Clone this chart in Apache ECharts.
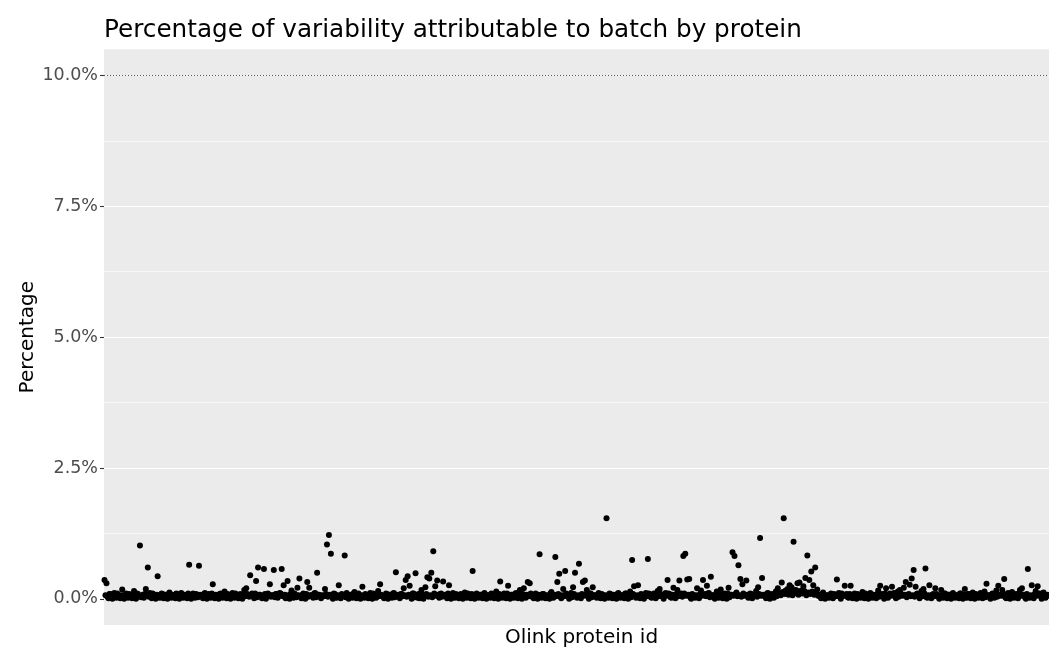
<!DOCTYPE html>
<html><head><meta charset="utf-8">
<script src="https://cdn.jsdelivr.net/npm/echarts@6/dist/echarts.min.js"></script>
<style>html,body{margin:0;padding:0;background:#fff}#c{width:1049px;height:653px}</style>
</head><body><div id="c"></div>
<script>
// Percentage of variability attributable to batch, one value per protein (in %)
const pctA = [0.36,0.07,0.30,0.04,0.01,0.09,0.09,0.06,0.0,0.08,0.11,0.05,0.02,0.1,0.07,0.03,0.01,0.07,0.18,0.05,
  0.0,0.08,0.1,0.06,0.02,0.09,0.08,0.04,0.01,0.07,0.15,0.05,0.0,0.1,0.09,0.06,1.02,0.03,0.06,0.08,
  0.02,0.09,0.19,0.06,0.60,0.04,0.11,0.07,0.01,0.1,0.07,0.05,0.0,0.08,0.43,0.06,0.02,0.03,0.1,0.09,
  0.01,0.07,0.08,0.05,0.0,0.09,0.12,0.06,0.02,0.08,0.07,0.04,0.01,0.1,0.09,0.03,0.0,0.07,0.11,0.06,
  0.02,0.08,0.06,0.04,0.01,0.1,0.65,0.06,0.0,0.07,0.1,0.05,0.02,0.09,0.08,0.03,0.63,0.08,0.07,0.06,
  0.01,0.09,0.11,0.05,0.0,0.07,0.09,0.04,0.02,0.1,0.28,0.06,0.01,0.08,0.07,0.03,0.0,0.09,0.1,0.05,
  0.02,0.07,0.14,0.06,0.01,0.09,0.08,0.03,0.0,0.08,0.11,0.05,0.02,0.1,0.06,0.04,0.01,0.07,0.09,0.06,
  0.0,0.08,0.17,0.05,0.2,0.09,0.07,0.04,0.45,0.07,0.1,0.06,0.01,0.1,0.34,0.03,0.60,0.08,0.08,0.05];
const pctB = [0.01,0.06,0.57,0.09,0.0,0.05,0.1,0.08,0.28,0.04,0.07,0.07,0.55,0.03,0.09,0.09,0.02,0.06,0.11,0.1,
  0.57,0.05,0.26,0.08,0.01,0.07,0.34,0.04,0.0,0.09,0.16,0.06,0.02,0.1,0.08,0.03,0.21,0.07,0.39,0.05,
  0.01,0.08,0.1,0.06,0.0,0.09,0.32,0.04,0.21,0.07,0.07,0.05,0.02,0.1,0.11,0.03,0.50,0.08,0.08,0.06,
  0.01,0.07,0.06,0.05,0.19,0.09,1.04,0.04,1.22,0.08,0.86,0.06,0.0,0.1,0.09,0.03,0.02,0.07,0.26,0.05,
  0.01,0.09,0.07,0.06,0.83,0.03,0.11,0.08,0.0,0.05,0.08,0.07,0.02,0.1,0.13,0.04,0.01,0.08,0.1,0.06,
  0.0,0.07,0.23,0.05,0.02,0.09,0.07,0.04,0.01,0.08,0.11,0.06,0.0,0.1,0.09,0.03,0.02,0.07,0.15,0.05,
  0.28,0.08,0.06,0.04,0.01,0.06,0.1,0.09,0.0,0.05,0.08,0.07,0.02,0.1,0.11,0.03,0.51,0.08,0.07,0.06,
  0.01,0.09,0.09,0.05,0.2,0.07,0.36,0.04,0.43,0.08,0.25,0.06,0.0,0.1,0.1,0.03,0.49,0.07,0.02,0.09];
const pctC = [0.01,0.06,0.17,0.08,0.0,0.05,0.22,0.09,0.41,0.04,0.39,0.07,0.50,0.03,0.91,0.1,0.24,0.06,0.35,0.08,
  0.02,0.09,0.1,0.04,0.33,0.07,0.08,0.05,0.01,0.1,0.26,0.06,0.0,0.08,0.11,0.03,0.02,0.09,0.07,0.05,
  0.01,0.07,0.09,0.05,0.0,0.08,0.12,0.04,0.02,0.1,0.06,0.06,0.01,0.09,0.53,0.03,0.0,0.07,0.1,0.05,
  0.02,0.08,0.08,0.04,0.01,0.09,0.11,0.06,0.0,0.07,0.07,0.05,0.02,0.1,0.09,0.03,0.01,0.08,0.14,0.06,
  0.0,0.09,0.33,0.05,0.02,0.07,0.1,0.04,0.01,0.1,0.25,0.06,0.0,0.08,0.08,0.03,0.02,0.09,0.11,0.05,
  0.01,0.07,0.17,0.04,0.0,0.09,0.2,0.06,0.02,0.08,0.32,0.05,0.30,0.1,0.07,0.03,0.01,0.07,0.1,0.06,
  0.0,0.08,0.85,0.05,0.02,0.09,0.09,0.04,0.01,0.07,0.06,0.06,0.0,0.1,0.13,0.03,0.02,0.08,0.80,0.05,
  0.32,0.09,0.48,0.04,0.01,0.07,0.19,0.05,0.53,0.1,0.08,0.06,0.0,0.08,0.11,0.03,0.22,0.09,0.50,0.05];
const pctD = [0.02,0.07,0.67,0.04,0.01,0.09,0.32,0.06,0.35,0.08,0.17,0.05,0.0,0.1,0.1,0.03,0.22,0.07,0.07,0.06,
  0.02,0.08,0.11,0.05,0.01,0.09,0.08,0.04,0.0,0.07,1.54,0.06,0.02,0.1,0.09,0.03,0.01,0.08,0.06,0.06,
  0.0,0.09,0.11,0.05,0.02,0.07,0.07,0.04,0.01,0.1,0.1,0.06,0.0,0.08,0.14,0.03,0.74,0.09,0.24,0.05,
  0.02,0.07,0.26,0.04,0.01,0.09,0.08,0.06,0.0,0.08,0.11,0.05,0.76,0.1,0.07,0.03,0.02,0.07,0.1,0.06,
  0.01,0.08,0.15,0.05,0.19,0.09,0.08,0.04,0.0,0.07,0.11,0.06,0.36,0.1,0.09,0.03,0.02,0.08,0.21,0.06,
  0.01,0.09,0.17,0.05,0.35,0.07,0.1,0.04,0.82,0.1,0.86,0.06,0.37,0.08,0.38,0.03,0.0,0.09,0.08,0.05,
  0.02,0.07,0.2,0.04,0.01,0.09,0.16,0.06,0.36,0.08,0.09,0.05,0.25,0.1,0.11,0.03,0.42,0.07,0.07,0.06,
  0.0,0.08,0.14,0.05,0.02,0.09,0.18,0.04,0.01,0.07,0.1,0.06,0.0,0.1,0.21,0.03,0.08,0.08,0.89,0.06];
const pctE = [0.82,0.09,0.12,0.05,0.64,0.07,0.38,0.04,0.28,0.1,0.07,0.06,0.35,0.08,0.02,0.03,0.1,0.09,0.01,0.05,
  0.08,0.07,0.15,0.04,0.22,0.09,1.16,0.06,0.40,0.08,0.06,0.05,0.01,0.1,0.11,0.03,0.0,0.07,0.09,0.06,
  0.02,0.08,0.14,0.05,0.2,0.11,0.1,0.07,0.31,0.13,1.54,0.09,0.16,0.15,0.19,0.08,0.26,0.12,0.22,0.07,
  1.09,0.11,0.17,0.16,0.30,0.08,0.31,0.13,0.16,0.1,0.24,0.15,0.40,0.07,0.83,0.12,0.36,0.09,0.52,0.14,
  0.26,0.08,0.60,0.11,0.18,0.06,0.08,0.04,0.01,0.09,0.12,0.05,0.0,0.07,0.07,0.03,0.02,0.08,0.1,0.06,
  0.01,0.09,0.08,0.05,0.37,0.07,0.11,0.04,0.0,0.1,0.06,0.06,0.25,0.08,0.09,0.03,0.02,0.09,0.25,0.05,
  0.01,0.07,0.1,0.04,0.0,0.09,0.07,0.06,0.02,0.08,0.13,0.05,0.01,0.1,0.08,0.03,0.0,0.07,0.11,0.06,
  0.02,0.08,0.06,0.05,0.01,0.09,0.16,0.04,0.25,0.07,0.09,0.06,0.0,0.1,0.2,0.03,0.02,0.08,0.1,0.06];
const pctF = [0.23,0.09,0.11,0.05,0.01,0.07,0.14,0.04,0.17,0.1,0.08,0.06,0.21,0.08,0.32,0.03,0.07,0.09,0.27,0.05,
  0.39,0.07,0.55,0.04,0.23,0.09,0.1,0.06,0.01,0.08,0.15,0.05,0.19,0.1,0.58,0.03,0.02,0.07,0.26,0.06,
  0.01,0.08,0.09,0.05,0.20,0.09,0.07,0.04,0.0,0.07,0.17,0.06,0.02,0.1,0.1,0.03,0.01,0.08,0.08,0.06,
  0.0,0.09,0.11,0.05,0.02,0.07,0.07,0.04,0.01,0.1,0.1,0.06,0.0,0.08,0.19,0.03,0.02,0.09,0.09,0.05,
  0.01,0.07,0.12,0.04,0.0,0.09,0.08,0.06,0.02,0.08,0.11,0.05,0.01,0.1,0.14,0.03,0.29,0.07,0.07,0.06,
  0.0,0.08,0.1,0.05,0.02,0.09,0.16,0.04,0.25,0.07,0.08,0.06,0.17,0.1,0.38,0.03,0.01,0.08,0.11,0.06,
  0.0,0.09,0.13,0.05,0.02,0.07,0.09,0.04,0.01,0.1,0.17,0.06,0.2,0.08,0.08,0.03,0.0,0.09,0.57,0.05,
  0.02,0.07,0.26,0.04,0.01,0.09,0.15,0.06,0.24,0.08,0.1,0.05,0.0,0.1,0.12,0.03,0.02,0.07,0.08,0.06];
const yTicks = [0, 2.5, 5, 7.5, 10];
const yMinor = [1.25, 3.75, 6.25, 8.75];
const thresholdPct = 10;

const batchPct = pctA.concat(pctB, pctC, pctD, pctE, pctF);
const proteinIds = batchPct.map((_, i) => 'OID' + String(i + 1).padStart(5, '0'));

const FONT = 'DejaVu Sans';
const chart = echarts.init(document.getElementById('c'), null, {renderer: 'canvas'});
chart.setOption({
  animation: false,
  backgroundColor: '#ffffff',
  textStyle: {fontFamily: FONT},
  title: {
    text: 'Percentage of variability attributable to batch by protein',
    left: 104, top: 18, padding: 0,
    textStyle: {fontFamily: FONT, fontSize: 24.7, fontWeight: 'normal', color: '#000'}
  },
  grid: {
    left: 104, right: 0, top: 49.3, bottom: 22.6,
    show: true, backgroundColor: '#EBEBEB', borderWidth: 0, containLabel: false
  },
  xAxis: {
    type: 'category',
    data: proteinIds,
    boundaryGap: true,
    name: 'Olink protein id',
    nameLocation: 'middle',
    nameGap: 3,
    nameMoveOverlap: false,
    nameTextStyle: {fontFamily: FONT, fontSize: 20, color: '#000', verticalAlign: 'top', padding: [0, 0, 0, 10]},
    axisLine: {show: false},
    axisTick: {show: false},
    axisLabel: {show: false},
    splitLine: {show: false}
  },
  yAxis: {
    type: 'value',
    min: -0.5, max: 10.5,
    name: 'Percentage',
    nameLocation: 'middle',
    nameGap: 66,
    nameMoveOverlap: false,
    nameTextStyle: {fontFamily: FONT, fontSize: 20, color: '#000'},
    axisLine: {show: false},
    axisTick: {show: true, length: 4, customValues: yTicks, lineStyle: {color: '#333333', width: 1.1}},
    axisLabel: {
      customValues: yTicks, margin: 6,
      fontFamily: FONT, fontSize: 17.5, color: '#4D4D4D',
      formatter: v => v.toFixed(1) + '%'
    },
    splitLine: {show: false}
  },
  series: [
    {
      type: 'scatter', data: [], silent: true, z: 1,
      markLine: {
        silent: true, symbol: 'none', z: 1, animation: false,
        label: {show: false},
        emphasis: {disabled: true},
        data: yMinor.map(v => ({yAxis: v, lineStyle: {color: '#ffffff', width: 0.6, type: 'solid'}}))
          .concat(yTicks.map(v => ({yAxis: v, lineStyle: {color: '#ffffff', width: 1.2, type: 'solid'}})))
          .concat([{yAxis: thresholdPct, lineStyle: {color: '#555555', width: 1.1, type: [1.1, 1.9]}}])
      }
    },
    {
      type: 'scatter',
      data: batchPct,
      z: 10,
      symbol: 'circle',
      symbolSize: 6,
      itemStyle: {color: '#000000', borderWidth: 0, opacity: 1},
      emphasis: {disabled: true}
    }
  ]
});
</script>
</body></html>
